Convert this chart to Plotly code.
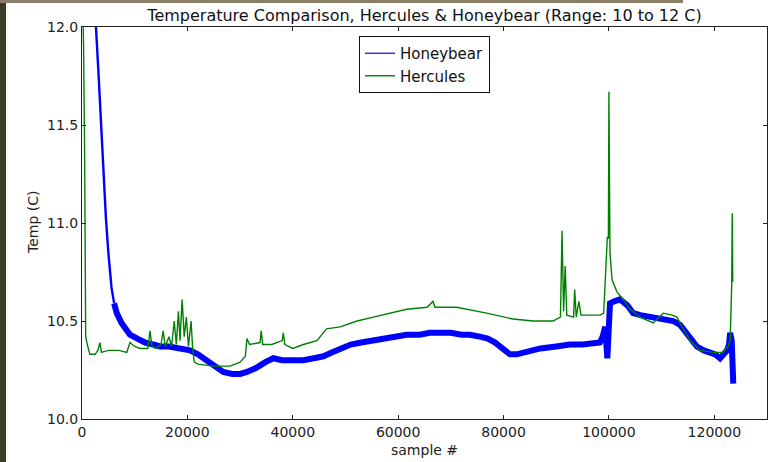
import plotly.graph_objects as go

# Honeybear (blue) — sample index and temperature (C)
hb_x = [2400, 2650, 3100, 3550, 4050, 4550, 5000, 5600, 6100, 6600, 7500, 8500, 9100,
        10500, 12000, 13500, 14800, 16500, 18600, 20500, 22000, 23700, 25200, 26800,
        28500, 30000, 31300, 33000, 34800, 36300, 38000, 39500, 42000, 44000, 45800,
        47500, 49000, 51000, 53000, 55300, 57500, 59500, 61600, 64100, 66000, 68000,
        70000, 72000, 73600, 75500, 77000, 78400, 80000, 81200, 82500, 84000, 85000,
        87000, 90000, 92600, 95000, 97000, 98300, 98800, 99000, 99300, 99700, 100000,
        100200, 101000, 102100, 103500, 104600, 106000, 107800, 110000, 112200, 113500,
        114800, 115800, 116700, 118000, 119200, 120200, 121100, 121800, 122400, 122800,
        123000, 123300, 123600]
hb_y = [12.2, 12.0, 11.78, 11.53, 11.27, 11.02, 10.85, 10.67, 10.59, 10.54, 10.49, 10.45, 10.43,
        10.41, 10.39, 10.38, 10.37, 10.37, 10.36, 10.35, 10.33, 10.30, 10.27, 10.24,
        10.23, 10.23, 10.24, 10.26, 10.29, 10.31, 10.30, 10.30, 10.30, 10.31, 10.32,
        10.34, 10.36, 10.38, 10.39, 10.40, 10.41, 10.42, 10.43, 10.43, 10.44, 10.44,
        10.44, 10.43, 10.43, 10.42, 10.41, 10.39, 10.35, 10.33, 10.33, 10.34, 10.35,
        10.36, 10.37, 10.38, 10.38, 10.39, 10.39, 10.42, 10.45, 10.47, 10.31, 10.50,
        10.59, 10.60, 10.61, 10.58, 10.54, 10.53, 10.52, 10.51, 10.50, 10.48,
        10.44, 10.40, 10.37, 10.35, 10.34, 10.33, 10.31, 10.33, 10.35, 10.38,
        10.44, 10.40, 10.18]

# Hercules (green)
hc_x = [0, 300, 500, 700, 1000, 1500, 2500, 3000, 3400, 3700, 5000, 5900, 7000, 8500, 9100,
        10000, 11000, 12500, 12900, 13300, 14000, 15000, 15400, 15800, 16500, 17000, 17500,
        17900, 18300, 18600, 19000, 19400, 19800, 20200, 20700, 21000, 21300, 22000, 24900,
        28100, 30000, 31000, 31300, 31800, 33800, 34000, 34300, 36000, 38000, 38200, 38500,
        40000, 42000, 44600, 46400, 49000, 52200, 55300, 58400, 61600, 65500, 66600, 67000,
        71100, 76800, 81800, 85600, 89400, 90800, 91100, 91400, 91700, 92000, 93300, 93500,
        93800, 94300, 94700, 98300, 99000, 99400, 99700, 99900, 100000, 100200, 100600,
        101500, 102700, 104000, 105900, 108400, 110300, 112000, 112900, 114100, 115400,
        117300, 119800, 121700, 122600, 123000, 123300, 123400, 123500]
hc_y = [12.3, 11.9, 11.35, 10.42, 10.38, 10.33, 10.33, 10.35, 10.39, 10.34, 10.35, 10.35, 10.35, 10.34, 10.39,
        10.37, 10.36, 10.36, 10.45, 10.37, 10.36, 10.38, 10.45, 10.37, 10.42, 10.37, 10.50,
        10.38, 10.55, 10.40, 10.61, 10.42, 10.52, 10.37, 10.50, 10.36, 10.29, 10.28, 10.27,
        10.27, 10.29, 10.32, 10.41, 10.38, 10.39, 10.45, 10.38, 10.38, 10.40, 10.44, 10.38,
        10.36, 10.38, 10.40, 10.46, 10.47, 10.50, 10.52, 10.54, 10.56, 10.57, 10.60, 10.57,
        10.57, 10.54, 10.51, 10.50, 10.50, 10.52, 10.96, 10.55, 10.78, 10.53, 10.52, 10.66,
        10.52, 10.60, 10.53, 10.53, 10.54, 10.76, 10.93, 10.92, 11.67, 10.85, 10.71,
        10.65, 10.61, 10.56, 10.52, 10.49, 10.54, 10.53, 10.52, 10.46, 10.40,
        10.35, 10.34, 10.34, 10.37, 10.40, 10.68, 11.05, 10.70]

x_ticks = [0, 20000, 40000, 60000, 80000, 100000, 120000]
y_ticks = [10.0, 10.5, 11.0, 11.5, 12.0]

FONT = "DejaVu Sans"
W, H = 769, 462
ML, MR, MT, MB = 82, 2, 27, 43
PW, PH = W - ML - MR, H - MT - MB

fig = go.Figure()
split = 8
fig.add_trace(go.Scatter(x=hb_x[:split + 1], y=hb_y[:split + 1], mode="lines",
                         line=dict(color="#0000ff", width=2.4), name="Honeybear",
                         legendgroup="hb", showlegend=False))
fig.add_trace(go.Scatter(x=hb_x[split:], y=hb_y[split:], mode="lines",
                         line=dict(color="#0000ff", width=6), name="Honeybear",
                         legendgroup="hb", showlegend=False))
fig.add_trace(go.Scatter(x=[None], y=[None], mode="lines",
                         line=dict(color="#0000ff", width=1.2), name="Honeybear"))
fig.add_trace(go.Scatter(x=hc_x, y=hc_y, mode="lines",
                         line=dict(color="#008000", width=1.4), name="Hercules"))

axis_common = dict(showline=True, linecolor="#222", linewidth=1, mirror="ticks",
                   ticks="inside", ticklen=4, tickcolor="#222", showgrid=False,
                   zeroline=False, automargin=False,
                   tickfont=dict(family=FONT, size=14, color="#222"))

fig.update_layout(
    width=W, height=H,
    margin=dict(l=ML, r=MR, t=MT, b=MB, autoexpand=False),
    paper_bgcolor="white", plot_bgcolor="white",
    title=dict(text="Temperature Comparison, Hercules & Honeybear (Range: 10 to 12 C)",
               x=(ML + PW / 2) / W, xanchor="center", y=1 - 15 / H, yanchor="middle",
               font=dict(family=FONT, size=16, color="#111"), automargin=False),
    xaxis=dict(range=[0, 130000], tickvals=x_ticks, ticktext=[str(v) for v in x_ticks],
               **axis_common),
    yaxis=dict(range=[10.0, 12.0], tickvals=y_ticks, ticktext=[f"{v:.1f}" for v in y_ticks],
               **axis_common),
    legend=dict(x=0.5, xanchor="center", y=1 - 9 / PH, yanchor="top",
                bgcolor="white", bordercolor="#111", borderwidth=1,
                font=dict(family=FONT, size=15, color="#111"),
                itemwidth=30, tracegroupgap=0),
    showlegend=True,
)

# axis titles placed as in the reference
fig.add_annotation(text="sample #", xref="paper", yref="paper", x=0.5, y=-(450 - (MT + PH)) / PH,
                   xanchor="center", yanchor="middle", showarrow=False,
                   font=dict(family=FONT, size=14, color="#222"))
fig.add_annotation(text="Temp (C)", xref="paper", yref="paper", x=-(ML - 33) / PW, y=0.5,
                   xanchor="center", yanchor="middle", showarrow=False, textangle=-90,
                   font=dict(family=FONT, size=14, color="#222"))

fig.add_shape(type="rect", xref="paper", yref="paper",
              x0=-ML / PW, x1=(-ML + 6) / PW, y0=-MB / PH, y1=1 + MT / PH,
              fillcolor="#3f3c2a", line_width=0, layer="above")
fig.add_shape(type="rect", xref="paper", yref="paper",
              x0=-ML / PW, x1=(683 - ML) / PW, y0=1 + (MT - 3) / PH, y1=1 + MT / PH,
              fillcolor="#8a7f66", line_width=0, layer="above")

fig.write_html("out.html", config={"displayModeBar": False},
               post_script="document.body.style.margin='0';document.body.style.overflow='hidden';")
